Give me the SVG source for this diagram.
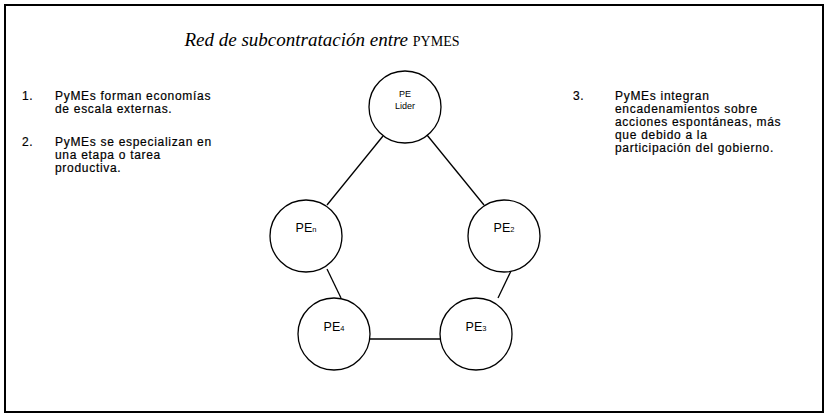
<svg xmlns="http://www.w3.org/2000/svg" width="826" height="416" viewBox="0 0 826 416">
<style>
.t{font-family:"Liberation Sans",Arial,sans-serif;font-size:12px;letter-spacing:0.7px;fill:#000;stroke:#000;stroke-width:0.2}
.n{fill:#fff;stroke:#000;stroke-width:1.3}
.l{font-family:"Liberation Sans",Arial,sans-serif;font-size:12.5px;fill:#000;text-anchor:middle}
.s{font-family:"Liberation Sans",Arial,sans-serif;font-size:9px;fill:#000;text-anchor:middle}
.sub{font-size:7.5px}
.c{stroke:#000;stroke-width:1.3;fill:none}
</style>
<rect x="5" y="5" width="818" height="407" fill="#fff" stroke="#000" stroke-width="2"/>
<text x="322" y="46" text-anchor="middle" font-family="'Liberation Serif','Times New Roman',serif" font-size="19"><tspan font-style="italic">Red de subcontratación entre</tspan> <tspan font-size="14">PYMES</tspan></text>
<g id="notes-left">
<text class="t" x="22" y="100">1.</text>
<text class="t" x="55" y="100">PyMEs forman economías</text>
<text class="t" x="55" y="113">de escala externas.</text>
<text class="t" x="22" y="146">2.</text>
<text class="t" x="55" y="146">PyMEs se especializan en</text>
<text class="t" x="55" y="159">una etapa o tarea</text>
<text class="t" x="55" y="172">productiva.</text>
</g>
<g id="notes-right">
<text class="t" x="573" y="100">3.</text>
<text class="t" x="615" y="100">PyMEs integran</text>
<text class="t" x="615" y="113">encadenamientos sobre</text>
<text class="t" x="615" y="126">acciones espontáneas, más</text>
<text class="t" x="615" y="139">que debido a la</text>
<text class="t" x="615" y="152">participación del gobierno.</text>
</g>
<g id="connectors">
<line class="c" x1="383" y1="136" x2="327" y2="205"/>
<line class="c" x1="427" y1="135" x2="484" y2="205"/>
<line class="c" x1="327" y1="269" x2="341" y2="298"/>
<line class="c" x1="511" y1="271" x2="498" y2="298"/>
<line class="c" x1="370" y1="339" x2="440" y2="339"/>
</g>
<g id="node-lider">
<circle class="n" cx="405" cy="107" r="36"/>
<text class="s" x="405" y="97">PE</text>
<text class="s" x="405" y="109">Lider</text>
</g>
<g id="node-pen">
<circle class="n" cx="306" cy="236" r="36"/>
<text class="l" x="306" y="232">PE<tspan class="sub">n</tspan></text>
</g>
<g id="node-pe2">
<circle class="n" cx="504" cy="236" r="36"/>
<text class="l" x="504" y="232">PE<tspan class="sub">2</tspan></text>
</g>
<g id="node-pe4">
<circle class="n" cx="334" cy="334" r="36"/>
<text class="l" x="334" y="331">PE<tspan class="sub">4</tspan></text>
</g>
<g id="node-pe3">
<circle class="n" cx="476" cy="334" r="36"/>
<text class="l" x="476" y="331">PE<tspan class="sub">3</tspan></text>
</g>
</svg>
